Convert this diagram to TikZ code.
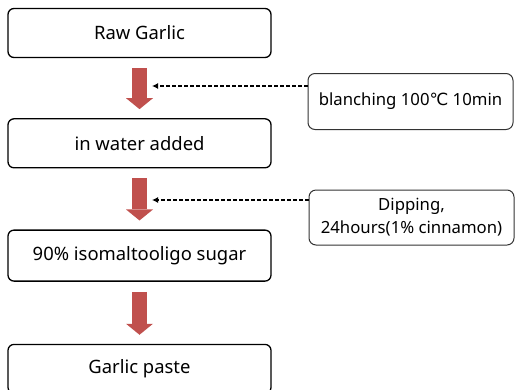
\documentclass[tikz,border=0pt]{standalone}
\usepackage{fontspec}
\setmainfont{Noto Sans}
\newfontfamily\degfont{DejaVu Sans}
\usetikzlibrary{arrows.meta,positioning}
\definecolor{garlicred}{RGB}{192,80,77}
\tikzset{
  stepbox/.style={
    rectangle,
    rounded corners=6bp,
    draw=black,
    line width=1.3bp,
    align=center,
    minimum width=263bp,
    minimum height=49bp,
    inner sep=2bp,
    font=\fontsize{18.5}{22}\selectfont
  },
  notebox/.style={
    rectangle,
    rounded corners=7bp,
    draw=black!80,
    line width=1bp,
    align=center,
    minimum width=205bp,
    minimum height=56bp,
    inner sep=2bp,
    font=\fontsize{16.8}{23}\selectfont
  },
  bigarrow/.style={
    -{Triangle[width=27bp,length=11bp,line width=0bp]},
    line width=15bp,
    draw=garlicred,
    shorten <=10bp,
    shorten >=9bp
  },
  notearrow/.style={
    -{Latex[length=6bp,width=6bp]},
    line width=1.2bp,
    dash pattern=on 4bp off 2bp
  }
}

\begin{document}
\begin{tikzpicture}[x=1bp,y=-1bp,node distance=60bp]
\useasboundingbox (0,0) rectangle (516,389);
\node[stepbox] (raw) at (139.5,33) {Raw Garlic};
\node[stepbox, below=of raw] (water) {in water added};
\node[stepbox, below=61bp of water, minimum height=51bp] (sugar) {90\% isomaltooligo sugar};
\node[stepbox, below=62bp of sugar] (paste) {Garlic paste};

\node[notebox] (blanch) at (410.5,101.5) {blanching 100{\degfont ℃} 10min};
\node[notebox, minimum height=55bp] (dip) at (411.5,217.5) {Dipping,\\24hours(1\% cinnamon)};

\coordinate (hitA) at (152,86);
\coordinate (hitB) at (152,200);

\draw[bigarrow] (raw) -- (water);
\draw[bigarrow] (water) -- (sugar);
\draw[bigarrow] (sugar) -- (paste);

\draw[notearrow] (blanch.west |- hitA) -- (hitA);
\draw[notearrow] (dip.west |- hitB) -- (hitB);
\end{tikzpicture}
\end{document}
